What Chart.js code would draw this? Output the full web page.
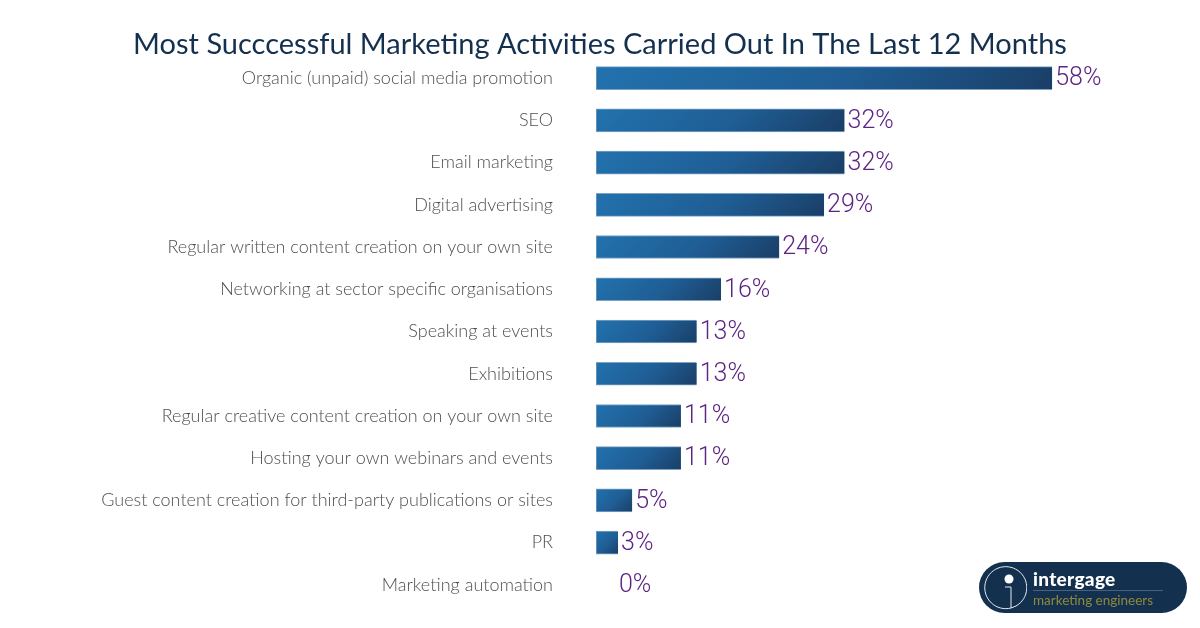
<!DOCTYPE html>
<html lang="en">
<head>
  <meta charset="UTF-8" />
  <title>Most Succcessful Marketing Activities</title>
  <script src="https://cdn.jsdelivr.net/npm/chart.js"></script>
  <style>
    html, body { margin: 0; padding: 0; background: #fff; overflow: hidden; }
    .wrap { position: relative; width: 1200px; height: 628px; }
    .logo {
      position: absolute; left: 979px; top: 562px; width: 208px; height: 51px;
      background: #14304f; border-radius: 26px; font-family: Lato, sans-serif;
    }
    .logo svg { position: absolute; left: 4px; top: 4px; }
    .logo .name { position: absolute; left: 54px; top: 5px; color: #fff; font-size: 19px; font-weight: 900; letter-spacing: .3px; }
    .logo .rule { position: absolute; left: 54px; top: 28px; width: 130px; height: 1px; background: #4a617c; }
    .logo .tag { position: absolute; left: 54px; top: 30px; color: #8f8a3c; font-size: 13.5px; }
  </style>
</head>
<body>
  <div class="wrap">
    <canvas id="chart" width="1200" height="628"></canvas>
    <div class="logo">
      <svg width="44" height="44" viewBox="0 0 44 44">
        <path d="M28 42 A21 21 0 1 1 33 40 L28 42 L28 21 L22 21" fill="none" stroke="#e6ebf0" stroke-width="1"/>
        <circle cx="26" cy="13" r="4.5" fill="#fff"/>
      </svg>
      <div class="name">intergage</div>
      <div class="rule"></div>
      <div class="tag">marketing engineers</div>
    </div>
  </div>

  <script>
    const categories = [
      "Organic (unpaid) social media promotion",
      "SEO",
      "Email marketing",
      "Digital advertising",
      "Regular written content creation on your own site",
      "Networking at sector specific organisations",
      "Speaking at events",
      "Exhibitions",
      "Regular creative content creation on your own site",
      "Hosting your own webinars and events",
      "Guest content creation for third-party publications or sites",
      "PR",
      "Marketing automation"
    ];
    // bar lengths as measured, the printed labels are the rounded ones
    const barValues = [58, 31.6, 31.6, 29, 23.3, 15.9, 12.8, 12.8, 10.8, 10.8, 4.6, 2.8, 0];
    const shownLabels = ["58%", "32%", "32%", "29%", "24%", "16%", "13%", "13%", "11%", "11%", "5%", "3%", "0%"];
    const titleText = "Most Succcessful Marketing Activities Carried Out In The Last 12 Months";

    const valueLabels = {
      id: "valueLabels",
      afterDatasetsDraw(chart) {
        const ctx = chart.ctx;
        const bars = chart.getDatasetMeta(0).data;
        ctx.save();
        ctx.font = "300 25px Roboto, sans-serif";
        ctx.fillStyle = "#5c2483";
        ctx.textBaseline = "middle";
        bars.forEach((bar, i) => {
          // the empty row has its label pushed out, as in the original
          const gap = barValues[i] === 0 ? 23 : 3;
          ctx.fillText(shownLabels[i], bar.x + gap, bar.y + 1);
        });
        ctx.restore();
      }
    };

    function barGradient(c) {
      const { chart, dataIndex } = c;
      if (!chart.chartArea || dataIndex === undefined) return "#1f5f97";
      const x = chart.scales.x;
      const top = chart.scales.y.getPixelForValue(dataIndex) - 12;
      const x0 = x.getPixelForValue(0);
      // 45 degree sweep, corner to corner
      const d = (x.getPixelForValue(barValues[dataIndex]) - x0 + 24) / 2;
      const grad = chart.ctx.createLinearGradient(x0, top, x0 + d, top + d);
      grad.addColorStop(0, "#2272ae");
      grad.addColorStop(0.55, "#1f5d94");
      grad.addColorStop(1, "#1a3e66");
      return grad;
    }

    new Chart(document.getElementById("chart"), {
      type: "bar",
      data: {
        labels: categories,
        datasets: [{
          data: barValues,
          backgroundColor: barGradient,
          borderColor: "#7ba3c8",
          borderWidth: 1,
          borderSkipped: "right",
          barThickness: 23
        }]
      },
      options: {
        indexAxis: "y",
        responsive: false,
        animation: false,
        layout: { padding: { left: 0, right: 0, top: 0, bottom: 14 } },
        scales: {
          x: {
            min: 0,
            max: 76.8,
            grid: { display: false },
            border: { display: false },
            ticks: { display: false }
          },
          y: {
            afterFit(scale) {
              scale.width = 596;
              // ticks.padding also inflates these, and would squash the rows
              scale.paddingTop = 0;
              scale.paddingBottom = 0;
            },
            grid: { display: false },
            border: { display: false },
            ticks: {
              padding: 35,
              autoSkip: false,
              color: "#4f4f4f",
              font: { family: "Lato", size: 18, weight: 300 }
            }
          }
        },
        plugins: {
          legend: { display: false },
          tooltip: { enabled: false },
          title: {
            display: true,
            text: titleText,
            color: "#14304f",
            font: { family: "Lato", size: 29, weight: 400, lineHeight: 1 },
            padding: { top: 30, bottom: -2 }
          }
        }
      },
      plugins: [valueLabels]
    });
  </script>
</body>
</html>
